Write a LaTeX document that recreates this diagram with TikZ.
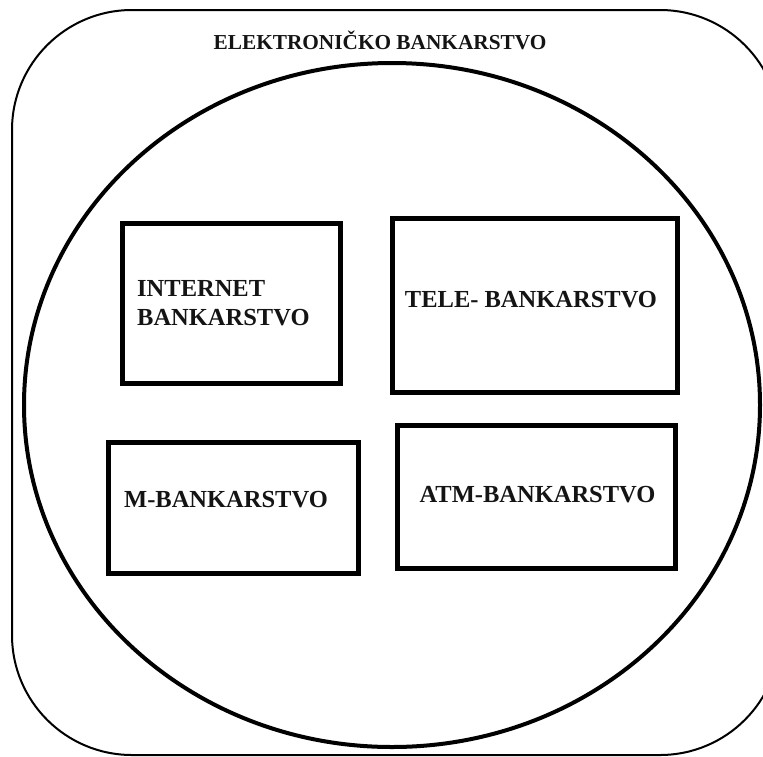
\documentclass[tikz,border=0pt]{standalone}
\usepackage{fontspec}
\setmainfont{Liberation Serif}
\tikzset{
  frame/.style={draw=black, line width=2pt, rounded corners=120pt},
  bigoval/.style={draw=black, line width=4pt},
  bankbox/.style={draw=black, line width=5pt, inner sep=0pt},
  boxtext/.style={font=\fontsize{24.5}{29}\selectfont\bfseries, text=black!92, inner sep=0pt},
  titletext/.style={font=\fontsize{21.3}{25}\selectfont\bfseries, text=black!92, inner sep=0pt}
}
\begin{document}
\begin{tikzpicture}[x=1pt,y=-1pt]
\useasboundingbox (0,0) rectangle (763,756);
\clip (0,0) rectangle (763,756);
\draw[frame] (12,10) rectangle (780,755);
\draw[bigoval] (392,405) ellipse [x radius=368pt, y radius=342pt];
\node[titletext] (title) at (380,40) {ELEKTRONIČKO BANKARSTVO};
\node[bankbox, minimum width=218pt, minimum height=160pt] (inet) at (231,303) {};
\node[bankbox, minimum width=285pt, minimum height=174pt] (tele) at (534.5,305) {};
\node[bankbox, minimum width=250pt, minimum height=131pt] (mbank) at (233,507.5) {};
\node[bankbox, minimum width=278pt, minimum height=143pt] (atm) at (536,496.5) {};
\node[boxtext, align=left, anchor=west] (inettext) at (137,303) {INTERNET\\BANKARSTVO};
\node[boxtext] (teletext) at (531,300) {TELE- BANKARSTVO};
\node[boxtext] (mtext) at (226,500) {M-BANKARSTVO};
\node[boxtext] (atmtext) at (537.5,495) {ATM-BANKARSTVO};
\end{tikzpicture}
\end{document}
